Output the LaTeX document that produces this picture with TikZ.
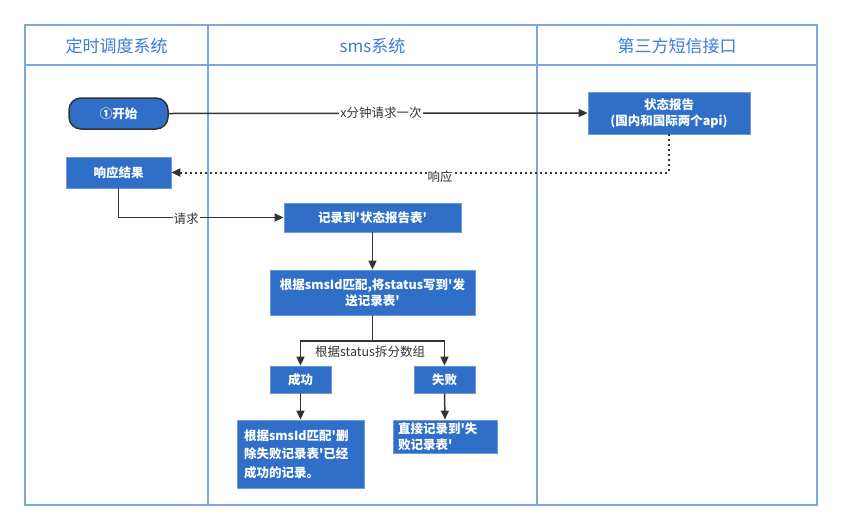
\documentclass[tikz,border=0pt]{standalone}
\usepackage{fontspec}
\setmainfont{Noto Sans CJK SC}[Ligatures=TeXOff]
\usetikzlibrary{arrows.meta,positioning}
\definecolor{lane}{RGB}{126,166,224}
\definecolor{title}{RGB}{61,123,212}
\definecolor{boxfill}{RGB}{47,111,200}
\definecolor{boxline}{RGB}{108,155,224}
\definecolor{ink}{RGB}{51,51,51}
\tikzset{
  box/.style={draw=boxline, line width=0.8pt, fill=boxfill, text=white, inner sep=2pt,
    font=\fontsize{12.5}{16}\selectfont\bfseries, align=center},
  lanetitle/.style={text=title, font=\fontsize{17}{20}\selectfont},
  conn/.style={draw=ink, line width=1.5pt, -{Triangle[length=9pt,width=8pt]}},
  lbl/.style={text=ink, font=\fontsize{12.5}{14}\selectfont, inner sep=1pt},
}
\begin{document}
\begin{tikzpicture}[x=1pt,y=-1pt]
\useasboundingbox (0,0) rectangle (841,531);
% lanes
\draw[lane, line width=2pt] (25,25) rectangle (817,505);
\draw[lane, line width=2pt] (25,65) -- (817,65);
\draw[lane, line width=2pt] (208,25) -- (208,505);
\draw[lane, line width=2pt] (537,25) -- (537,505);
\node[lanetitle] (t1) at (116.5,46) {定时调度系统};
\node[lanetitle] (t2) at (372.5,46) {sms系统};
\node[lanetitle] (t3) at (677,46) {第三方短信接口};
% nodes
\node[box, draw=ink, line width=1.5pt, rounded corners=12pt, minimum width=99pt, minimum height=31pt] (start) at (118.5,113.5) {①开始};
\node[box, minimum width=162pt, minimum height=42pt] (report) at (669,113) {状态报告\\(国内和国际两个api)};
\node[box, minimum width=105pt, minimum height=31pt] (resp) at (118.5,172.5) {响应结果};
\node[box, minimum width=177pt, minimum height=29pt] (rec) at (372.5,217.5) {记录到'状态报告表'};
\node[box, minimum width=205pt, minimum height=45pt] (match) at (372.5,292.5) {根据smsId匹配,将status写到'发\\送记录表'};
\node[box, minimum width=61pt, minimum height=27pt] (succ) at (300.5,379.5) {成功};
\node[box, minimum width=61pt, minimum height=27pt] (fail) at (444.5,379.5) {失败};
\node[box, minimum width=127pt, minimum height=68pt, align=left, text width=113pt, font=\fontsize{12.5}{18.5}\selectfont\bfseries] (del) at (300.5,454) {根据smsId匹配'删\\除失败记录表'已经\\成功的记录。};
\node[box, minimum width=104pt, minimum height=33pt, align=left, text width=94pt] (direct) at (445,436.5) {直接记录到'失\\败记录表'};
% connectors
\draw[conn] (start.east) -- node[lbl, fill=white, pos=0.507] {x分钟请求一次} (report.west);
\draw[conn, line width=2pt, dash pattern=on 2pt off 3pt] (report.south) |- node[lbl, fill=white, pos=0.73, yshift=-4pt] {响应} (resp.east);
\draw[conn] (resp.south) |- node[lbl, fill=white, pos=0.705, yshift=-1pt] {请求} (rec.west);
\draw[conn] (rec.south) -- (match.north);
\coordinate (split) at (372.5,341);
\draw[draw=ink, line width=1.5pt] (match.south) -- (split);
\draw[conn] (split) -| (succ.north);
\draw[conn] (split) -| (fail.north);
\node[lbl] (splitlbl) at (370,352) {根据status拆分数组};
\draw[conn] (succ.south) -- (del.north);
\draw[conn] (fail.south) -- (direct.north);
\end{tikzpicture}
\end{document}
